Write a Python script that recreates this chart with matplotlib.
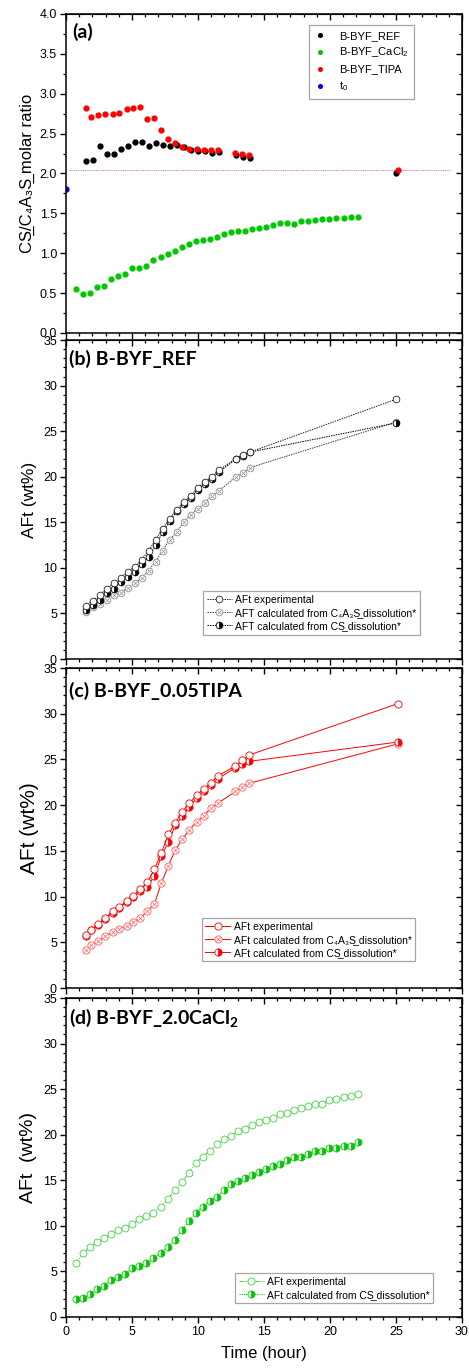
import matplotlib
matplotlib.use("Agg")
import matplotlib.pyplot as plt
from matplotlib.ticker import MultipleLocator, FormatStrFormatter
from matplotlib.legend_handler import HandlerTuple

plt.rcParams['font.family'] = ['Liberation Sans', 'DejaVu Sans']
plt.rcParams['mathtext.default'] = 'regular'

US = 'S\u0332'  # underlined S (cement notation)

# ---- panel (a): CS/C4A3S molar ratio ----
t_ref = [1.49, 2.02, 2.55, 3.08, 3.61, 4.14, 4.67, 5.2, 5.73, 6.26, 6.79, 7.32,
         7.85, 8.38, 8.91, 9.44, 9.97, 10.5, 11.03, 11.56, 12.86, 13.39, 13.92, 25.0]
ratio_ref = [2.15, 2.17, 2.34, 2.25, 2.25, 2.31, 2.35, 2.39, 2.39, 2.34, 2.38, 2.36,
             2.35, 2.36, 2.33, 2.30, 2.28, 2.28, 2.26, 2.27, 2.23, 2.21, 2.19, 2.00]

t_tipa = [1.49, 1.92, 2.45, 2.98, 3.54, 4.04, 4.6, 5.1, 5.64, 6.17, 6.7, 7.23,
          7.76, 8.29, 8.82, 9.35, 9.9, 10.44, 10.97, 11.5, 12.84, 13.37, 13.9, 25.12]
ratio_tipa = [2.82, 2.71, 2.73, 2.75, 2.74, 2.76, 2.81, 2.82, 2.83, 2.68, 2.69, 2.54,
              2.43, 2.38, 2.33, 2.31, 2.31, 2.30, 2.29, 2.29, 2.26, 2.24, 2.23, 2.04]

t_cacl = [0.78, 1.31, 1.84, 2.38, 2.91, 3.44, 3.97, 4.5, 5.03, 5.56, 6.09, 6.62, 7.18,
          7.71, 8.24, 8.77, 9.3, 9.83, 10.36, 10.89, 11.45, 11.98, 12.51, 13.04, 13.57,
          14.1, 14.63, 15.16, 15.69, 16.22, 16.76, 17.29, 17.82, 18.35, 18.88, 19.41,
          19.94, 20.47, 21.03, 21.56, 22.14]
ratio_cacl = [0.55, 0.49, 0.50, 0.57, 0.59, 0.68, 0.71, 0.74, 0.82, 0.82, 0.84, 0.92,
              0.95, 0.99, 1.03, 1.08, 1.12, 1.15, 1.16, 1.18, 1.20, 1.24, 1.27, 1.28,
              1.28, 1.30, 1.32, 1.33, 1.35, 1.38, 1.38, 1.37, 1.40, 1.41, 1.42, 1.43,
              1.43, 1.44, 1.44, 1.45, 1.45]

t0_time = [0.0]
t0_ratio = [1.80]
ref_line = 2.04

# ---- panel (b): B-BYF_REF ----
aft_ref_exp = [5.8, 6.4, 7.0, 7.7, 8.3, 8.9, 9.6, 10.1, 10.9, 11.9, 13.1, 14.3,
               15.4, 16.4, 17.2, 17.9, 18.8, 19.4, 20.0, 20.7, 22.0, 22.4, 22.7, 28.5]
aft_ref_c4a3s = [5.2, 5.7, 6.0, 6.5, 7.0, 7.3, 7.8, 8.3, 8.9, 9.7, 10.7, 11.9,
                 13.1, 13.9, 15.0, 15.8, 16.5, 17.1, 17.9, 18.4, 20.0, 20.4, 21.0, 26.0]
aft_ref_cs = [5.4, 5.9, 6.5, 7.2, 7.7, 8.4, 9.0, 9.6, 10.4, 11.2, 12.5, 13.9,
              15.1, 16.2, 17.0, 17.7, 18.5, 19.2, 19.8, 20.5, 21.9, 22.3, 22.7, 25.9]

# ---- panel (c): B-BYF_0.05TIPA ----
aft_tipa_exp = [5.8, 6.4, 7.0, 7.7, 8.4, 8.9, 9.5, 10.1, 10.8, 11.6, 13.0, 14.8,
                16.8, 18.1, 19.3, 20.2, 21.1, 21.8, 22.4, 23.2, 24.3, 24.9, 25.5, 31.1]
aft_tipa_c4a3s = [4.2, 4.7, 5.1, 5.7, 6.1, 6.5, 6.8, 7.2, 7.7, 8.4, 9.2, 11.5,
                  13.4, 15.1, 16.3, 17.3, 18.2, 18.8, 19.7, 20.2, 21.5, 22.0, 22.4, 26.7]
aft_tipa_cs = [5.7, 6.3, 6.9, 7.6, 8.2, 8.8, 9.4, 10.0, 10.6, 11.0, 12.3, 14.4,
               16.0, 17.8, 18.8, 19.8, 20.8, 21.5, 22.2, 22.9, 24.1, 24.5, 24.8, 26.9]

# ---- panel (d): B-BYF_2.0CaCl2 ----
aft_cacl_exp = [5.9, 7.0, 7.7, 8.2, 8.7, 9.1, 9.5, 9.8, 10.2, 10.7, 11.1, 11.4,
                12.1, 12.9, 13.9, 14.8, 15.8, 16.9, 17.6, 18.2, 19.0, 19.5, 19.9,
                20.4, 20.6, 21.1, 21.4, 21.6, 21.8, 22.3, 22.4, 22.7, 22.9, 23.1,
                23.4, 23.4, 23.8, 23.9, 24.1, 24.2, 24.5]
aft_cacl_cs = [2.0, 2.1, 2.5, 3.1, 3.4, 4.1, 4.4, 4.7, 5.4, 5.6, 5.9, 6.5, 7.0, 7.7,
               8.5, 9.5, 10.5, 11.4, 12.1, 12.7, 13.2, 13.9, 14.6, 14.9, 15.3, 15.6,
               15.9, 16.2, 16.6, 16.8, 17.2, 17.5, 17.5, 17.9, 18.2, 18.2, 18.5, 18.5,
               18.8, 18.8, 19.2]

GREEN = '#00c800'
RED = '#ff0000'
TITLE_FONT = dict(family='Lato', fontweight='bold')

fig = plt.figure(figsize=(4.69, 13.69), dpi=100)
ax_a = fig.add_axes([0.1407, 0.7568, 0.8443, 0.233])
ax_b = fig.add_axes([0.1407, 0.5186, 0.8443, 0.233])
ax_c = fig.add_axes([0.1407, 0.2783, 0.8443, 0.2337])
ax_d = fig.add_axes([0.1407, 0.0380, 0.8443, 0.233])


def style_axes(ax, ymax, ymajor, yminor, xlabels=False):
    ax.set_xlim(0, 30)
    ax.set_ylim(0, ymax)
    ax.xaxis.set_major_locator(MultipleLocator(5))
    ax.xaxis.set_minor_locator(MultipleLocator(1))
    ax.yaxis.set_major_locator(MultipleLocator(ymajor))
    ax.yaxis.set_minor_locator(MultipleLocator(yminor))
    ax.tick_params(which='major', direction='out', length=4.5, width=1.0,
                   labelsize=9, pad=2)
    ax.tick_params(which='minor', direction='out', length=2.5, width=0.9)
    if not xlabels:
        ax.tick_params(axis='x', labelbottom=False)
    for s in ax.spines.values():
        s.set_linewidth(1.1)
    # mirrored ticks pointing in on the top and right
    top = ax.secondary_xaxis('top')
    right = ax.secondary_yaxis('right')
    top.xaxis.set_major_locator(MultipleLocator(5))
    top.xaxis.set_minor_locator(MultipleLocator(1))
    right.yaxis.set_major_locator(MultipleLocator(ymajor))
    right.yaxis.set_minor_locator(MultipleLocator(yminor))
    for sec in (top, right):
        sec.tick_params(which='major', direction='in', length=4.5, width=1.0,
                        labeltop=False, labelright=False)
        sec.tick_params(which='minor', direction='in', length=2.5, width=0.9)


# ---- (a) ----
style_axes(ax_a, 4.0, 0.5, 0.25)
ax_a.yaxis.set_major_formatter(FormatStrFormatter('%.1f'))
ax_a.hlines(ref_line, 0.2, 29.1, colors='#d070e0', linestyles=(0, (1, 1)),
            linewidth=0.8, zorder=1)
ax_a.plot(t_ref, ratio_ref, 'o', color='black', ms=3.5, label='B-BYF_REF')
ax_a.plot(t_cacl, ratio_cacl, 'o', color=GREEN, ms=3.5, label='B-BYF_CaCl$_2$')
ax_a.plot(t_tipa, ratio_tipa, 'o', color=RED, ms=3.5, label='B-BYF_TIPA')
ax_a.plot(t0_time, t0_ratio, 'o', color='#0000e0', ms=3.5, label='t$_0$')
ax_a.set_ylabel('C' + US + '/C\u2084A\u2083' + US + ' molar ratio',
                fontsize=12, labelpad=3)
leg = ax_a.legend(loc='upper left', bbox_to_anchor=(0.614, 0.965), fontsize=8,
                  handlelength=1.0, handletextpad=1.2, borderpad=0.5,
                  labelspacing=0.45, fancybox=False, edgecolor='#909090',
                  markerscale=0.75, borderaxespad=0)
leg.get_frame().set_linewidth(0.9)
ax_a.text(0.015, 0.945, '(a)', transform=ax_a.transAxes, fontsize=14,
          va='center', ha='left', **TITLE_FONT)


def crossed(ax, t, y, color, lcolor, ms, ls, lw, z):
    h1, = ax.plot(t, y, marker='o', mfc='white', mec=color, color=lcolor, ms=ms,
                  mew=0.6, ls=ls, lw=lw, zorder=z)
    h2, = ax.plot(t, y, marker='x', color=color, ms=ms * 0.6, mew=0.5, ls='none',
                  zorder=z + 0.1)
    return (h1, h2)


def half(ax, t, y, color, ms, ls, lw, z):
    h, = ax.plot(t, y, marker='o', fillstyle='right', mfc=color, mfcalt='white',
                 mec=color, color=color, ms=ms, mew=0.6, ls=ls, lw=lw, zorder=z)
    return h


def opencirc(ax, t, y, color, ms, ls, lw, z):
    h, = ax.plot(t, y, marker='o', mfc='white', mec=color, color=color, ms=ms,
                 mew=0.6, ls=ls, lw=lw, zorder=z)
    return h


def aft_legend(ax, handles, labels, anchor, fontsize=7.5):
    lg = ax.legend(handles, labels, loc='upper left', bbox_to_anchor=anchor,
                   fontsize=fontsize, handlelength=2.4, handletextpad=0.3,
                   borderpad=0.35, labelspacing=0.3, fancybox=False,
                   edgecolor='#909090', numpoints=1, borderaxespad=0,
                   handler_map={tuple: HandlerTuple(ndivide=1, pad=0)})
    lg.get_frame().set_linewidth(0.9)
    return lg


# ---- (b) ----
style_axes(ax_b, 35, 5, 1)
dotted = (0, (1.5, 1))
hb2 = crossed(ax_b, t_ref, aft_ref_c4a3s, '#909090', '#404040', 4.8, dotted, 0.7, 3)
hb3 = half(ax_b, t_ref, aft_ref_cs, 'black', 4.8, dotted, 0.7, 4)
hb1 = opencirc(ax_b, t_ref, aft_ref_exp, '#202020', 4.8, dotted, 0.7, 5)
ax_b.set_ylabel('AFt (wt%)', fontsize=12.5, labelpad=4)
aft_legend(ax_b, [hb1, hb2, hb3],
           ['AFt experimental',
            'AFT calculated from C\u2084A\u2083' + US + ' dissolution*',
            'AFT calculated from C' + US + ' dissolution*'],
           (0.346, 0.213))
ax_b.text(0.008, 0.94, '(b) B-BYF_REF', transform=ax_b.transAxes, fontsize=14,
          va='center', ha='left', **TITLE_FONT)

# ---- (c) ----
style_axes(ax_c, 35, 5, 1)
hc2 = crossed(ax_c, t_tipa, aft_tipa_c4a3s, '#ff6060', RED, 5.2, '-', 0.7, 3)
hc3 = half(ax_c, t_tipa, aft_tipa_cs, RED, 5.2, '-', 0.7, 4)
hc1 = opencirc(ax_c, t_tipa, aft_tipa_exp, RED, 5.2, '-', 0.7, 5)
ax_c.set_ylabel('AFt (wt%)', fontsize=15, labelpad=3)
aft_legend(ax_c, [hc1, hc2, hc3],
           ['AFt experimental',
            'AFt calculated from C\u2084A\u2083' + US + ' dissolution*',
            'AFt calculated from C' + US + ' dissolution*'],
           (0.343, 0.219))
ax_c.text(0.008, 0.93, '(c) B-BYF_0.05TIPA', transform=ax_c.transAxes, fontsize=14,
          va='center', ha='left', **TITLE_FONT)

# ---- (d) ----
style_axes(ax_d, 35, 5, 1, xlabels=True)
hd2 = half(ax_d, t_cacl, aft_cacl_cs, GREEN, 5.0, (0, (1, 1)), 0.8, 4)
hd1 = opencirc(ax_d, t_cacl, aft_cacl_exp, '#40d040', 5.0, (0, (4, 1.5, 1, 1.5)), 0.7, 5)
ax_d.set_ylabel('AFt  (wt%)', fontsize=14, labelpad=4)
ax_d.set_xlabel('Time (hour)', fontsize=12, labelpad=6)
aft_legend(ax_d, [hd1, hd2],
           ['AFt experimental', 'AFt calculated from C' + US + ' dissolution*'],
           (0.427, 0.138))
ax_d.text(0.008, 0.937, '(d) B-BYF_2.0CaCl$_2$', transform=ax_d.transAxes,
          fontsize=14, va='center', ha='left', **TITLE_FONT)

fig.savefig('out.png', dpi=100)
